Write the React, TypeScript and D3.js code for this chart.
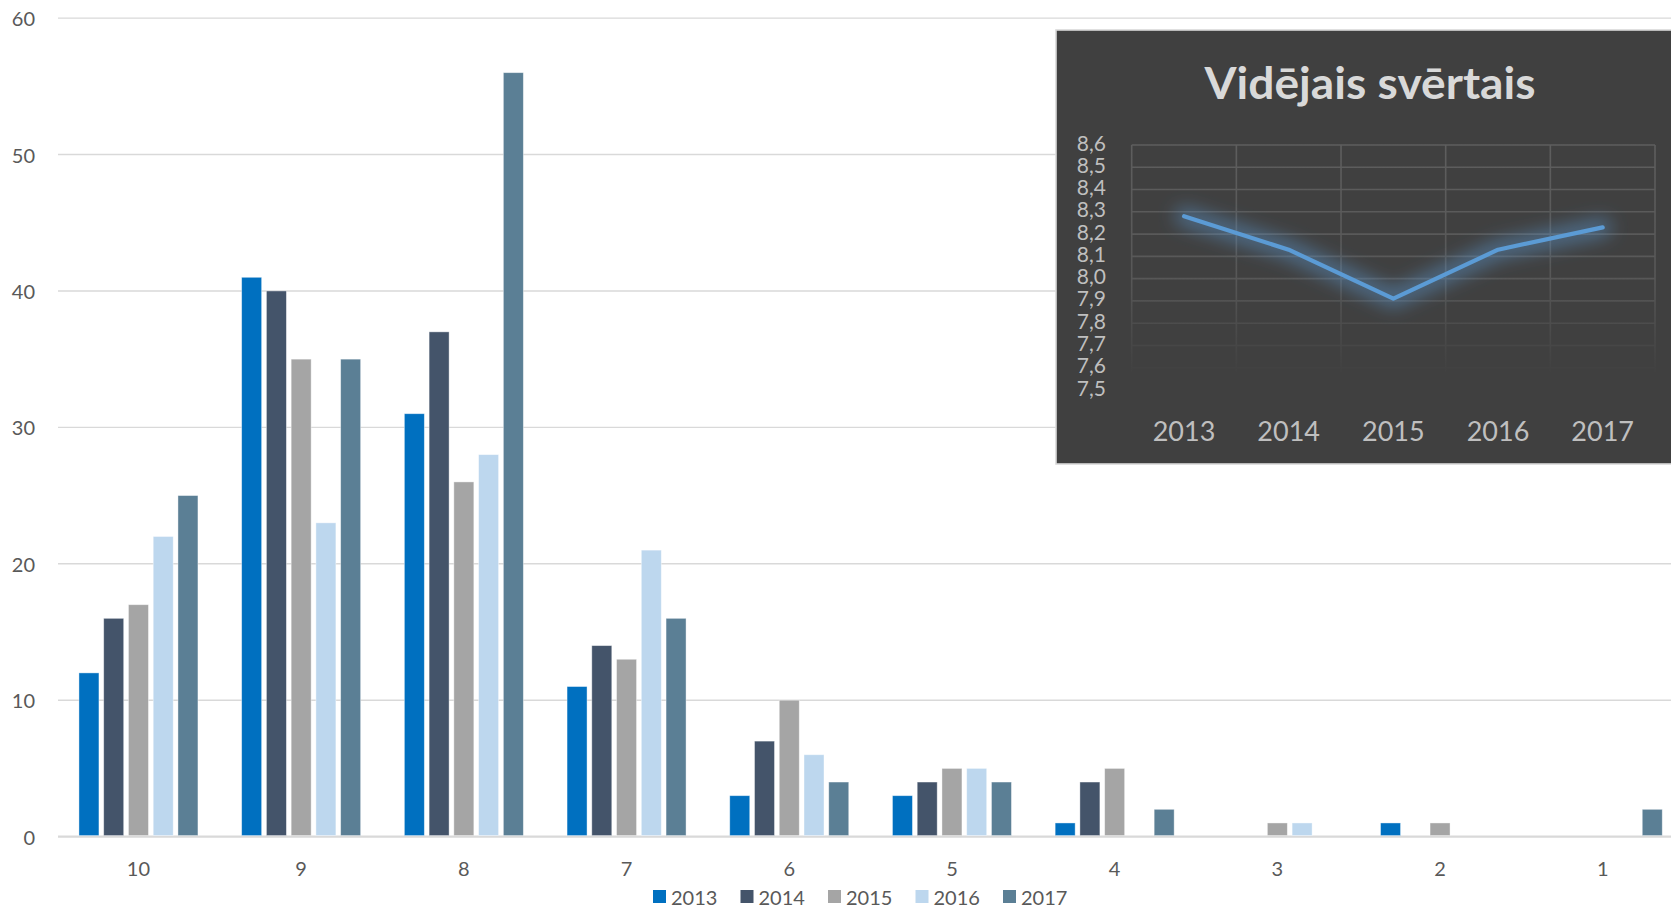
import React from "react";
import * as d3 from "d3";

const categories = ["10", "9", "8", "7", "6", "5", "4", "3", "2", "1"];
const seriesNames = ["2013", "2014", "2015", "2016", "2017"];
const values2013 = [12, 41, 31, 11, 3, 3, 1, 0, 1, 0];
const values2014 = [16, 40, 37, 14, 7, 4, 4, 0, 0, 0];
const values2015 = [17, 35, 26, 13, 10, 5, 5, 1, 1, 0];
const values2016 = [22, 23, 28, 21, 6, 5, 0, 1, 0, 0];
const values2017 = [25, 35, 56, 16, 4, 4, 2, 0, 0, 2];
const seriesColors = ["#0070C0", "#44546A", "#A5A5A5", "#BDD7EE", "#5B7F95"];
const yTicks = [0, 10, 20, 30, 40, 50, 60];

const insetYears = ["2013", "2014", "2015", "2016", "2017"];
const insetValues = [8.28, 8.13, 7.91, 8.13, 8.23];
const insetTicks = [8.6, 8.5, 8.4, 8.3, 8.2, 8.1, 8.0, 7.9, 7.8, 7.7, 7.6, 7.5];
const insetTitle = "Vidējais svērtais";

const allSeries = [values2013, values2014, values2015, values2016, values2017];

const FONT = "Lato, 'Open Sans', sans-serif";

export default function App() {
  const W = 1671;
  const H = 908;
  const x = d3.scaleBand<string>().domain(categories).range([57.1, 1684.1]);
  const xi = d3
    .scaleBand<string>()
    .domain(seriesNames)
    .range([0, 119])
    .paddingInner(0.192);
  const y = d3.scaleLinear().domain([0, 60]).range([836.6, 18.1]);

  const ix = d3.scaleBand<string>().domain(insetYears).range([1131.7, 1655]);
  const iy = d3.scaleLinear().domain([7.5, 8.6]).range([390, 145]);
  const line = d3
    .line<number>()
    .x((_, i) => (ix(insetYears[i]) as number) + ix.bandwidth() / 2)
    .y((d) => iy(d));
  const linePath = line(insetValues) || "";
  const vLines = insetYears.map((yr) => ix(yr) as number).concat([1655]);

  return (
    <svg
      width={W}
      height={H}
      style={{ position: "absolute", left: 0, top: 0, background: "#fff" }}
      fontFamily={FONT}
    >
      <defs>
        <linearGradient id="gridFade" gradientUnits="userSpaceOnUse" x1="0" y1="140" x2="0" y2="375">
          <stop offset="0" stopColor="#5e5e5e" />
          <stop offset="0.6" stopColor="#575757" />
          <stop offset="1" stopColor="#404040" />
        </linearGradient>
        <filter id="glow" x="-30%" y="-80%" width="160%" height="260%">
          <feGaussianBlur stdDeviation="9" />
        </filter>
        <clipPath id="clipAll">
          <rect x={0} y={0} width={W} height={H} />
        </clipPath>
      </defs>
      <g clipPath="url(#clipAll)">
        {yTicks.map((t) => (
          <line
            key={t}
            x1={58}
            x2={W}
            y1={y(t)}
            y2={y(t)}
            stroke="#d9d9d9"
            strokeWidth={t === 0 ? 2.2 : 1.4}
          />
        ))}
        {yTicks.map((t) => (
          <text
            key={"l" + t}
            x={35}
            y={y(t)}
            textAnchor="end"
            dominantBaseline="central"
            fontSize={20}
            fill="#595959"
          >
            {t}
          </text>
        ))}
        {categories.map((c, ci) =>
          seriesNames.map((s, si) => {
            const v = allSeries[si][ci];
            if (v <= 0) return null;
            const bx = (x(c) as number) + x.bandwidth() / 2 - 59.5 + (xi(s) as number);
            return (
              <rect
                key={c + s}
                x={bx}
                y={y(v)}
                width={xi.bandwidth()}
                height={y(0) - y(v) - 1}
                fill={seriesColors[si]}
                stroke="#ffffff"
                strokeOpacity={0.5}
                strokeWidth={0.8}
              />
            );
          })
        )}
        {categories.map((c) => (
          <text
            key={"x" + c}
            x={(x(c) as number) + x.bandwidth() / 2}
            y={868}
            textAnchor="middle"
            dominantBaseline="central"
            fontSize={20}
            fill="#595959"
          >
            {c}
          </text>
        ))}
        {seriesNames.map((s, i) => (
          <g key={"lg" + s} transform={`translate(${653 + i * 87.5},896.5)`}>
            <rect x={0} y={-6.5} width={13} height={13} fill={seriesColors[i]} />
            <text x={18} y={0} dominantBaseline="central" fontSize={20} fill="#595959">
              {s}
            </text>
          </g>
        ))}

        <rect x={1056} y={30} width={700} height={434} fill="#404040" stroke="#d9d9d9" strokeWidth={1.6} />
        <text
          x={1370}
          y={99}
          textAnchor="middle"
          fontSize={44}
          fontWeight="bold"
          fill="#d9d9d9"
          textLength={331}
          lengthAdjust="spacingAndGlyphs"
        >
          {insetTitle}
        </text>
        {insetTicks.map((t) => (
          <line
            key={"ig" + t}
            x1={1131.7}
            x2={1655}
            y1={iy(t)}
            y2={iy(t)}
            stroke="url(#gridFade)"
            strokeWidth={1.6}
          />
        ))}
        {vLines.map((vx, i) => (
          <line
            key={"iv" + i}
            x1={vx}
            x2={vx}
            y1={iy(8.6)}
            y2={372}
            stroke="url(#gridFade)"
            strokeWidth={1.6}
          />
        ))}
        {insetTicks.map((t) => (
          <text
            key={"it" + t}
            x={1106}
            y={iy(t) - 3}
            textAnchor="end"
            dominantBaseline="central"
            fontSize={21}
            fill="#bfbfbf"
          >
            {t.toFixed(1).replace(".", ",")}
          </text>
        ))}
        {insetYears.map((yr) => (
          <text
            key={"iy" + yr}
            x={(ix(yr) as number) + ix.bandwidth() / 2}
            y={430}
            textAnchor="middle"
            dominantBaseline="central"
            fontSize={27}
            fill="#bfbfbf"
          >
            {yr}
          </text>
        ))}
        <path d={linePath} fill="none" stroke="#5B9BD5" strokeOpacity={0.5} strokeWidth={18} strokeLinecap="round" strokeLinejoin="round" filter="url(#glow)" />
        <path d={linePath} fill="none" stroke="#5B9BD5" strokeWidth={4.2} strokeLinecap="round" strokeLinejoin="round" />
      </g>
    </svg>
  );
}
